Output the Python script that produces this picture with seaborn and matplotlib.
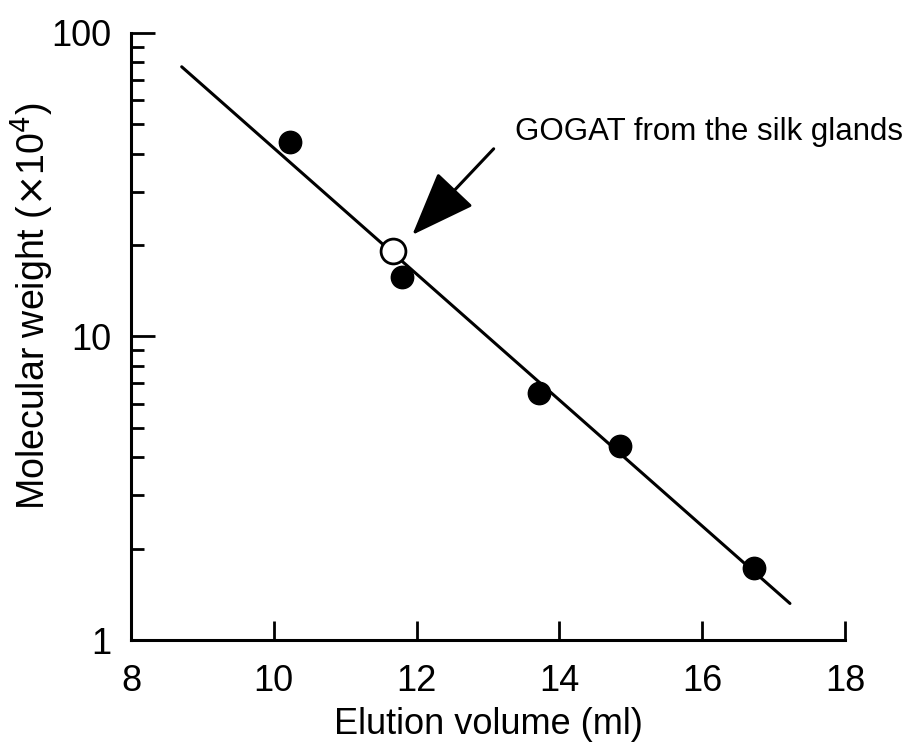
import matplotlib
matplotlib.use("Agg")
import matplotlib.pyplot as plt
import seaborn as sns
import pandas as pd
from matplotlib.ticker import LogLocator, FixedLocator, NullFormatter

sns.set_theme(style="white")
plt.rcParams['font.family'] = ['Liberation Sans', 'DejaVu Sans']
plt.rcParams['text.color'] = 'black'
plt.rcParams['axes.labelcolor'] = 'black'

# Standards (filled)
std_volume = [10.23, 11.80, 13.71, 14.85, 16.73]
std_mw = [43.7, 15.7, 6.5, 4.36, 1.73]
# GOGAT (open)
gogat_volume = [11.67]
gogat_mw = [19.1]
# Calibration line endpoints
line_volume = [8.71, 17.23]
line_mw = [77.3, 1.32]

x_ticks = [8, 10, 12, 14, 16, 18]
y_ticks = [1, 10, 100]

fig = plt.figure(figsize=(9.2, 7.46), dpi=100)
ax = fig.add_axes([0.1424, 0.142, 0.776, 0.814])

sns.lineplot(x=line_volume, y=line_mw, ax=ax, color="black", linewidth=2.2)
sns.scatterplot(x=std_volume, y=std_mw, ax=ax, color="black", s=260,
                edgecolor="black", linewidth=1, zorder=3)
sns.scatterplot(x=gogat_volume, y=gogat_mw, ax=ax, color="white", s=320,
                edgecolor="black", linewidth=2, zorder=4)

ax.set_yscale("log")
ax.set_xlim(8, 18)
ax.set_ylim(1, 100)
ax.xaxis.set_major_locator(FixedLocator(x_ticks))
ax.set_xticklabels([str(v) for v in x_ticks])
ax.yaxis.set_major_locator(FixedLocator(y_ticks))
ax.set_yticklabels([str(v) for v in y_ticks])
ax.yaxis.set_minor_locator(LogLocator(base=10, subs=range(2, 10)))
ax.yaxis.set_minor_formatter(NullFormatter())

for s in ["top", "right"]:
    ax.spines[s].set_visible(False)
for s in ["left", "bottom"]:
    ax.spines[s].set_linewidth(2.2)
    ax.spines[s].set_color("black")

ax.tick_params(axis="both", which="major", direction="in", length=14, width=2,
               labelsize=26, colors="black", bottom=True, left=True)
ax.tick_params(axis="y", which="major", pad=14, length=17)
ax.tick_params(axis="y", which="minor", direction="in", length=9, width=2,
               left=True, colors="black")
ax.tick_params(axis="x", which="major", pad=17)

ax.set_xlabel("Elution volume (ml)", fontsize=26, labelpad=6)
ax.set_ylabel("Molecular weight ($\\times$10$^{4}$)", fontsize=27)
ax.yaxis.set_label_coords(-0.105, 0.55)

ax.annotate("", xy=(11.94, 21.6), xytext=(13.08, 41.5),
            arrowprops=dict(arrowstyle="-|>,head_length=3.4,head_width=1.3",
                            color="black", lw=2.2, shrinkA=0, shrinkB=0))
ax.text(13.38, 47.2, "GOGAT from the silk glands", fontsize=22.5, color="black",
        ha="left", va="center")

fig.savefig("out.png", dpi=100)
